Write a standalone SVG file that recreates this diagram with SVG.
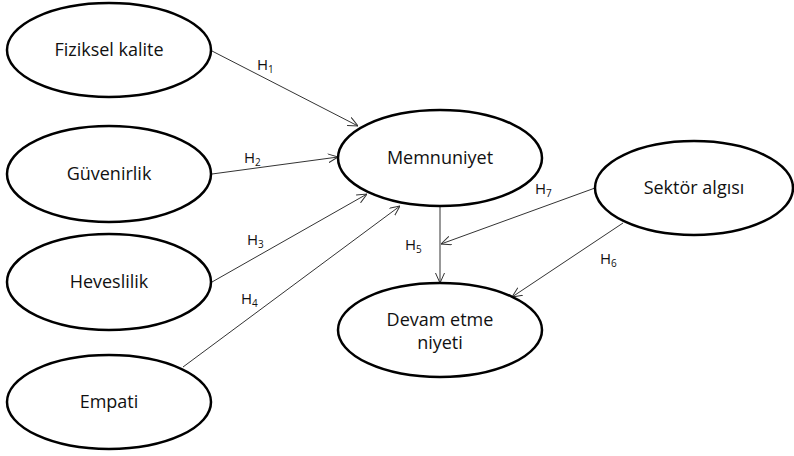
<svg xmlns="http://www.w3.org/2000/svg" width="794" height="456" viewBox="0 0 794 456">
<defs>
<style>
.n{fill:#fff;stroke:#000;stroke-width:2.5}
.t{font-family:"Open Sans","Liberation Sans",sans-serif;font-size:18px;fill:#111;text-anchor:middle}
.c{stroke:#333;stroke-width:1;fill:none;marker-end:url(#a)}
.h{font-family:"Open Sans","Liberation Sans",sans-serif;font-size:15px;fill:#111}
.s{font-size:10px}
</style>
<marker id="a" viewBox="0 0 10 10" refX="10" refY="5" markerWidth="10" markerHeight="10" markerUnits="userSpaceOnUse" orient="auto">
<path d="M0,0.5 L10,5 L0,9.5" fill="none" stroke="#333" stroke-width="1"/>
</marker>
</defs>
<rect width="794" height="456" fill="#fff"/>
<g id="connectors">
<line class="c" x1="212" y1="51" x2="358" y2="126"/>
<line class="c" x1="212" y1="174" x2="338" y2="157"/>
<line class="c" x1="212" y1="282" x2="367" y2="194"/>
<line class="c" x1="183" y1="367" x2="400" y2="206"/>
<line class="c" x1="440" y1="206" x2="440" y2="283"/>
<line class="c" x1="595" y1="188" x2="441" y2="244"/>
<line class="c" x1="623" y1="223" x2="512" y2="297"/>
<text class="h" x="257" y="70">H<tspan class="s" dy="3">1</tspan></text>
<text class="h" x="244" y="163">H<tspan class="s" dy="3">2</tspan></text>
<text class="h" x="247" y="245">H<tspan class="s" dy="3">3</tspan></text>
<text class="h" x="241" y="304">H<tspan class="s" dy="3">4</tspan></text>
<text class="h" x="405" y="250">H<tspan class="s" dy="3">5</tspan></text>
<text class="h" x="600" y="264">H<tspan class="s" dy="3">6</tspan></text>
<text class="h" x="535" y="194">H<tspan class="s" dy="3">7</tspan></text>
</g>
<g id="fiziksel"><ellipse class="n" cx="109" cy="50" rx="102" ry="47"/><text class="t" x="109" y="56">Fiziksel kalite</text></g>
<g id="guvenirlik"><ellipse class="n" cx="109" cy="174" rx="102" ry="48"/><text class="t" x="109" y="180">Güvenirlik</text></g>
<g id="heveslilik"><ellipse class="n" cx="109" cy="282" rx="102" ry="48"/><text class="t" x="109" y="288">Heveslilik</text></g>
<g id="empati"><ellipse class="n" cx="109" cy="402" rx="102" ry="47"/><text class="t" x="109" y="408">Empati</text></g>
<g id="memnuniyet"><ellipse class="n" cx="440" cy="158" rx="102" ry="48"/><text class="t" x="440" y="164">Memnuniyet</text></g>
<g id="sektor"><ellipse class="n" cx="694" cy="188" rx="99" ry="47"/><text class="t" x="694" y="194">Sektör algısı</text></g>
<g id="devam"><ellipse class="n" cx="440" cy="330" rx="102" ry="47"/><text class="t" x="440" y="326">Devam etme</text><text class="t" x="440" y="349">niyeti</text></g>
</svg>
